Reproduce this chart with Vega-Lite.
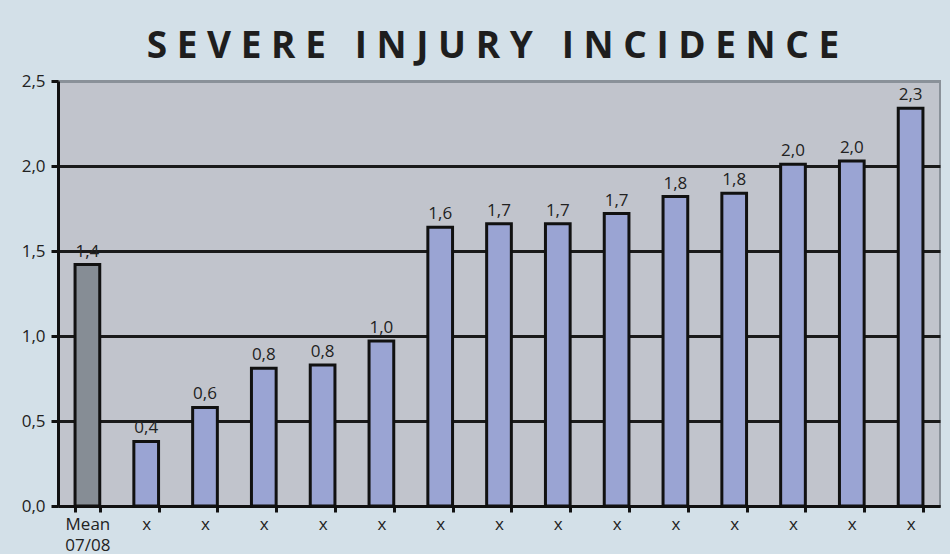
{
  "$schema": "https://vega.github.io/schema/vega-lite/v6.json",
  "width": 882,
  "height": 425,
  "autosize": "none",
  "padding": {"left": 58, "top": 81, "right": 10, "bottom": 48},
  "background": "#d3e0e8",
  "config": {
    "locale": {"number": {"decimal": ",", "thousands": ".", "grouping": [3], "currency": ["", " €"]}},
    "view": {"fill": "#c1c4cc", "stroke": "#8a9199", "strokeWidth": 2}
  },
  "title": {
    "text": "S E V E R E\u00a0\u00a0\u00a0I N J U R Y\u00a0\u00a0\u00a0I N C I D E N C E",
    "font": "Open Sans",
    "fontSize": 37,
    "fontWeight": "bold",
    "color": "#1e1e1e",
    "anchor": "middle",
    "offset": 6,
    "dx": -6
  },
  "data": {
    "values": [
      {"cat": "Mean", "value": 1.42, "type": "mean"},
      {"cat": "x1", "value": 0.38, "type": "other"},
      {"cat": "x2", "value": 0.58, "type": "other"},
      {"cat": "x3", "value": 0.81, "type": "other"},
      {"cat": "x4", "value": 0.83, "type": "other"},
      {"cat": "x5", "value": 0.97, "type": "other"},
      {"cat": "x6", "value": 1.64, "type": "other"},
      {"cat": "x7", "value": 1.66, "type": "other"},
      {"cat": "x8", "value": 1.66, "type": "other"},
      {"cat": "x9", "value": 1.72, "type": "other"},
      {"cat": "x10", "value": 1.82, "type": "other"},
      {"cat": "x11", "value": 1.84, "type": "other"},
      {"cat": "x12", "value": 2.01, "type": "other"},
      {"cat": "x13", "value": 2.03, "type": "other"},
      {"cat": "x14", "value": 2.34, "type": "other"}
    ]
  },
  "encoding": {
    "x": {
      "field": "cat",
      "type": "nominal",
      "sort": null,
      "scale": {"paddingInner": 0.58, "paddingOuter": 0.29},
      "axis": {
        "title": null,
        "labelAngle": 0,
        "labelExpr": "datum.extra ? '' : (datum.value == 'Mean' ? ['Mean', '07/08'] : 'x')",
        "labelFont": "Open Sans",
        "labelFontSize": 17,
        "labelColor": "#222222",
        "labelPadding": 4,
        "labelLineHeight": 21,
        "tickBand": "extent",
        "tickColor": "#111111",
        "tickWidth": 3,
        "tickSize": 6,
        "domainColor": "#111111",
        "domainWidth": 3
      }
    },
    "y": {
      "field": "value",
      "type": "quantitative",
      "scale": {"domain": [0, 2.5], "nice": false},
      "axis": {
        "title": null,
        "values": [0, 0.5, 1, 1.5, 2, 2.5],
        "format": ".1f",
        "labelFont": "Open Sans",
        "labelFontSize": 17,
        "labelColor": "#222222",
        "labelPadding": 6,
        "tickColor": "#111111",
        "tickWidth": 3,
        "tickSize": 7,
        "domainColor": "#111111",
        "domainWidth": 3,
        "grid": true,
        "gridColor": {"condition": {"test": "datum.value >= 2.5", "value": "#8a9199"}, "value": "#1a1a1a"},
        "gridWidth": 3,
        "gridOpacity": 1
      }
    }
  },
  "layer": [
    {
      "mark": {"type": "bar", "stroke": "#111111", "strokeWidth": 3},
      "encoding": {
        "color": {
          "field": "type",
          "type": "nominal",
          "scale": {"domain": ["mean", "other"], "range": ["#868d95", "#9aa4d3"]},
          "legend": null
        }
      }
    },
    {
      "mark": {"type": "text", "baseline": "alphabetic", "dy": -8, "font": "Open Sans", "fontSize": 17, "color": "#222222"},
      "encoding": {
        "text": {"field": "value", "type": "quantitative", "format": ".1f"}
      }
    }
  ]
}
